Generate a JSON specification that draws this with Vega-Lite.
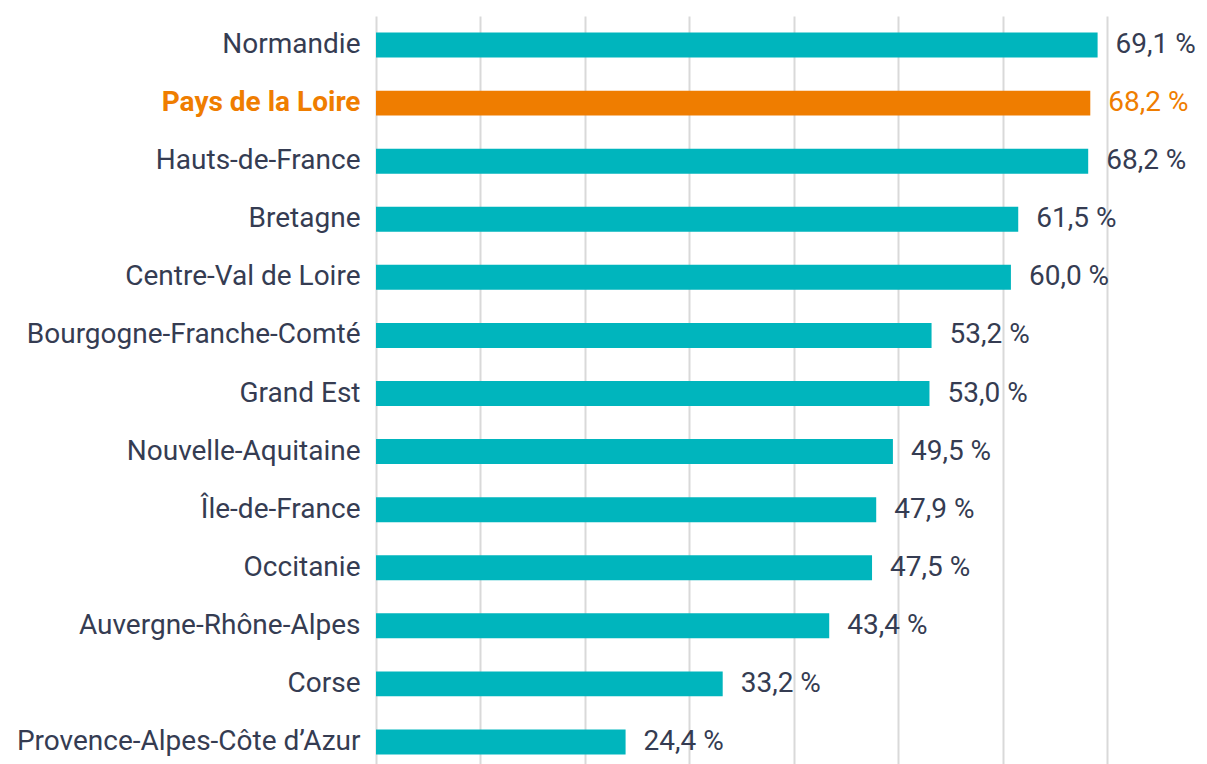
{
  "$schema": "https://vega.github.io/schema/vega-lite/v6.json",
  "autosize": {"type": "none"},
  "padding": {"left": 376, "top": 16, "right": 100, "bottom": 0},
  "width": 731,
  "height": 755,
  "background": "white",
  "data": {"values": [
    {"region": "Normandie", "value": 69.1, "label": "69,1 %"},
    {"region": "Pays de la Loire", "value": 68.4, "label": "68,2 %"},
    {"region": "Hauts-de-France", "value": 68.2, "label": "68,2 %"},
    {"region": "Bretagne", "value": 61.5, "label": "61,5 %"},
    {"region": "Centre-Val de Loire", "value": 60.8, "label": "60,0 %"},
    {"region": "Bourgogne-Franche-Comté", "value": 53.2, "label": "53,2 %"},
    {"region": "Grand Est", "value": 53.0, "label": "53,0 %"},
    {"region": "Nouvelle-Aquitaine", "value": 49.5, "label": "49,5 %"},
    {"region": "Île-de-France", "value": 47.9, "label": "47,9 %"},
    {"region": "Occitanie", "value": 47.5, "label": "47,5 %"},
    {"region": "Auvergne-Rhône-Alpes", "value": 43.4, "label": "43,4 %"},
    {"region": "Corse", "value": 33.2, "label": "33,2 %"},
    {"region": "Provence-Alpes-Côte d’Azur", "value": 23.9, "label": "24,4 %"}
  ]},
  "encoding": {
    "y": {
      "field": "region", "type": "nominal", "sort": null,
      "scale": {"paddingInner": 0.57, "paddingOuter": 0.285},
      "axis": {
        "title": null, "ticks": false, "domain": false, "labelPadding": 16, "labelLimit": 0,
        "labelFont": "Roboto", "labelFontSize": 28,
        "labelColor": {"condition": {"test": "datum.value == 'Pays de la Loire'", "value": "#ef7d00"}, "value": "#353c52"},
        "labelFontWeight": {"condition": {"test": "datum.value == 'Pays de la Loire'", "value": "bold"}, "value": "normal"}
      }
    },
    "x": {
      "field": "value", "type": "quantitative",
      "scale": {"domain": [0, 70], "nice": false},
      "axis": {
        "title": null, "labels": false, "ticks": false, "domain": false,
        "values": [0, 10, 20, 30, 40, 50, 60, 70],
        "grid": true, "gridColor": "#d9d9d9", "gridWidth": 2
      }
    }
  },
  "layer": [
    {
      "mark": {"type": "bar"},
      "encoding": {
        "color": {
          "condition": {"test": "datum.region == 'Pays de la Loire'", "value": "#ef7d00"},
          "value": "#00b5bd"
        }
      }
    },
    {
      "mark": {"type": "text", "align": "left", "baseline": "middle", "dx": 18, "font": "Roboto", "fontSize": 28},
      "encoding": {
        "text": {"field": "label"},
        "color": {
          "condition": {"test": "datum.region == 'Pays de la Loire'", "value": "#ef7d00"},
          "value": "#353c52"
        }
      }
    }
  ],
  "config": {"view": {"stroke": null}}
}
